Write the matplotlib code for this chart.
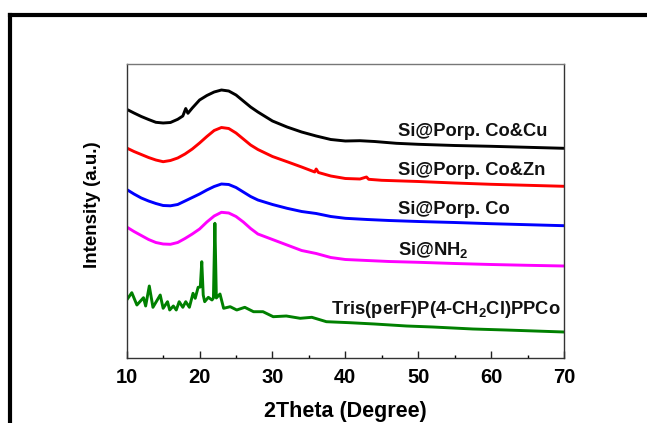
import matplotlib
matplotlib.use("Agg")
import matplotlib.pyplot as plt
from matplotlib.lines import Line2D
from matplotlib.ticker import MultipleLocator

plt.rcParams['font.family'] = ['Liberation Sans', 'DejaVu Sans']
plt.rcParams['font.weight'] = 'bold'
plt.rcParams['mathtext.fontset'] = 'custom'
plt.rcParams['mathtext.rm'] = 'Liberation Sans:bold'
plt.rcParams['mathtext.it'] = 'Liberation Sans:bold'
plt.rcParams['mathtext.bf'] = 'Liberation Sans:bold'
plt.rcParams['mathtext.default'] = 'rm'

# ---------------- data (2Theta, intensity a.u.) ----------------
cocu_x = [10, 11, 12, 13, 14, 15, 16, 17, 17.7, 18.1, 18.4, 19, 20, 21, 22, 23, 24, 25, 26, 27,
          28, 29, 30, 32, 34, 36, 38, 40, 42, 44, 47, 50, 55, 60, 65, 70]
cocu_y = [248.7, 245, 241.5, 238.5, 235.7, 235, 235.5, 238.7, 242, 249.5, 244.7, 250, 258, 262.5,
          266, 268, 267, 263, 257, 251, 246, 241.5, 237, 231, 226, 222, 218.5, 217, 217.3, 216.5,
          214.7, 213.7, 212.5, 211.7, 210.7, 209.7]

cozn_x = [10, 11, 12, 13, 14, 15, 16, 17, 18, 19, 20, 21, 22, 23, 24, 25, 26, 27, 28, 29, 30, 32,
          34, 35.8, 36, 36.3, 38, 40, 42, 42.9, 43.2, 45, 50, 55, 60, 65, 70]
cozn_y = [210, 206.5, 203.5, 200.5, 198, 196.3, 197.5, 200, 204, 209, 215, 221.5, 227.5, 230.5,
          229.5, 225, 219, 213, 208.5, 205, 201.5, 196.3, 191, 186, 189, 185.5, 182, 179.5, 179,
          181, 178.7, 177.7, 176.5, 175, 173.7, 172.7, 171.7]

co_x = [10, 11, 12, 13, 14, 15, 16, 17, 18, 19, 20, 21, 22, 23, 24, 25, 26, 27, 28, 30, 32, 34,
        36, 38, 40, 43, 46, 50, 55, 60, 65, 70]
co_y = [168.5, 164, 160, 157, 154.5, 152.5, 152.2, 153.5, 157, 160.5, 164, 168, 171.5, 174,
        173.5, 170.5, 166, 161.5, 158, 153.5, 149.7, 146.5, 144.5, 141.5, 139.7, 138.5, 137.5,
        136.5, 135.5, 134.3, 133.3, 132.3]

nh2_x = [10, 11, 12, 13, 14, 15, 16, 17, 18, 19, 20, 21, 22, 23, 24, 25, 26, 27, 28, 30, 32, 34,
         36, 38, 40, 43, 46, 50, 55, 60, 65, 70]
nh2_y = [131, 126.5, 122.5, 118.5, 115.5, 114, 113.7, 115.5, 119.5, 124, 129, 136, 142, 145.7,
         145, 141.5, 136, 129.5, 124, 118.5, 113, 107.5, 104.5, 100.5, 98.5, 97.5, 96.5, 95.7,
         94.5, 93.5, 92.7, 92]

tris_x = [10, 10.7, 11.4, 12.3, 12.6, 13.1, 13.6, 14.6, 15, 15.6, 15.9, 16.4, 16.8, 17.2, 17.7,
          18.1, 18.6, 19.1, 19.4, 19.8, 20.1, 20.3, 20.5, 20.7, 21.2, 21.7, 21.9, 22.1, 22.3,
          22.8, 23.3, 24.2, 25.1, 26.2, 27.4, 28.7, 30.1, 31.9, 33.8, 35.4, 37.4, 40.6, 44,
          48.4, 52, 57.5, 62, 66, 70]
tris_y = [58, 65.3, 53, 60.3, 52, 72, 50.7, 63, 49.7, 56.3, 48, 52, 48, 56.3, 50.7, 56.3, 50.7,
          64.7, 59.7, 70.7, 71, 96.3, 63, 56.3, 60.7, 58, 60, 134.7, 60, 64, 49.7, 51.3, 48,
          50.7, 46.3, 46.3, 41.3, 42, 39.7, 40.7, 36.3, 35.3, 34, 32, 31, 29, 28, 27, 26]

labels = ["Si@Porp. Co&Cu", "Si@Porp. Co&Zn", "Si@Porp. Co", r"Si@$\mathrm{NH_2}$",
          r"Tris(perF)P(4-$\mathrm{CH_2Cl}$)PPCo"]
colors = ["#000000", "#ff0000", "#0000ff", "#ff00ff", "#008000"]
label_y = [222, 183, 143.7, 102.7, 44]

x_ticks = [10, 20, 30, 40, 50, 60, 70]

# ---------------- figure ----------------
W, H = 647, 423
fig = plt.figure(figsize=(W / 100, H / 100), dpi=100)
ax = fig.add_axes([126.7 / W, 1 - 358 / H, (564 - 126.7) / W, (358 - 64) / H])

series = [(cocu_x, cocu_y), (cozn_x, cozn_y), (co_x, co_y), (nh2_x, nh2_y), (tris_x, tris_y)]
for (xs, ys), c in zip(series, colors):
    ax.plot(xs, ys, color=c, lw=2.1, solid_joinstyle='round')

for i, (lab, c, ly) in enumerate(zip(labels, colors, label_y)):
    if i < 4:
        ax.text(47.2, ly, lab, ha='left', va='baseline', fontsize=13.2, fontweight='bold',
                color='#111111')
    else:
        ax.text(69.6, ly, lab, ha='right', va='baseline', fontsize=13.2, fontweight='bold',
                color='#111111')

ax.set_xlim(10, 70)
ax.set_ylim(0, 294)
ax.set_xticks(x_ticks)
ax.set_xticklabels([str(t) for t in x_ticks])
ax.xaxis.set_minor_locator(MultipleLocator(5))
ax.set_yticks([])
ax.tick_params(axis='x', which='major', direction='in', length=5, width=1, pad=7,
               labelsize=14.5, colors='#222222')
ax.tick_params(axis='x', which='minor', direction='in', length=2.5, width=1)
for lab in ax.get_xticklabels():
    lab.set_fontweight('bold')
    lab.set_color('black')

for s in ['left', 'right', 'bottom']:
    ax.spines[s].set_color('#333333')
    ax.spines[s].set_linewidth(1)
ax.spines['top'].set_color('#777777')
ax.spines['top'].set_linewidth(1)

ax.set_xlabel("2Theta (Degree)", fontsize=15.5, fontweight='bold', labelpad=10)
ax.set_ylabel("Intensity (a.u.)", fontsize=13.5, fontweight='bold')
ax.yaxis.set_label_coords(-0.058, 0.522)

# outer black frame (partial)
fig.add_artist(Line2D([10 / W, 10 / W], [0, 1 - 15.3 / H], transform=fig.transFigure,
                      color='black', lw=3, solid_capstyle='projecting'))
fig.add_artist(Line2D([10 / W, 1], [1 - 15.3 / H, 1 - 15.3 / H], transform=fig.transFigure,
                      color='black', lw=3, solid_capstyle='projecting'))

fig.savefig("out.png", dpi=100)
